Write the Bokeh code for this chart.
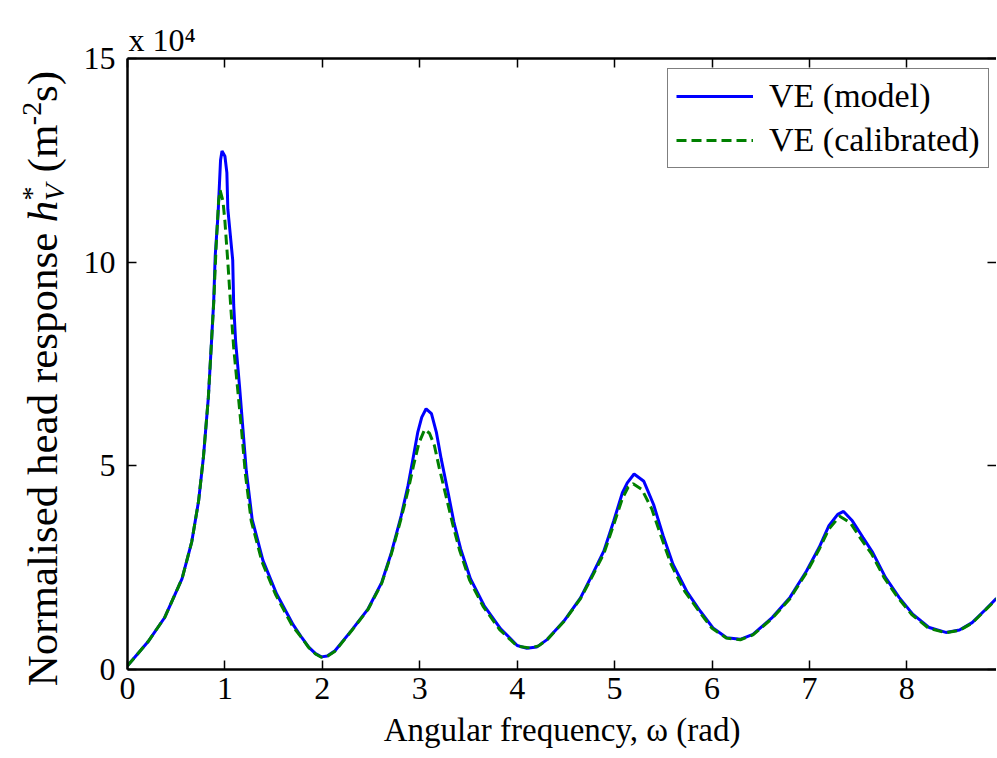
import math
from bokeh.plotting import figure
from bokeh.models import Range1d, LinearAxis, FixedTicker, Legend, LegendItem
from bokeh.layouts import row, column
from bokeh.core.properties import value
from bokeh.embed import file_html
from bokeh.resources import INLINE

# ---- data (head response in units of 1e4) ----
omega_model = [0.00, 0.21, 0.38, 0.56, 0.66, 0.73, 0.78, 0.83, 0.86, 0.885, 0.90, 0.93, 0.955, 0.97,
               1.00, 1.02, 1.03, 1.08, 1.09, 1.11, 1.15, 1.18, 1.22, 1.28, 1.39, 1.53, 1.70, 1.79,
               1.86, 1.93, 1.99, 2.05, 2.13, 2.30, 2.47, 2.61, 2.71, 2.81, 2.88, 2.93, 2.98, 3.02,
               3.065, 3.12, 3.17, 3.22, 3.29, 3.35, 3.42, 3.52, 3.66, 3.83, 4.00, 4.10, 4.20, 4.31,
               4.48, 4.65, 4.78, 4.89, 4.99, 5.08, 5.13, 5.20, 5.30, 5.40, 5.50, 5.60, 5.74, 5.88,
               6.01, 6.15, 6.29, 6.42, 6.62, 6.80, 6.97, 7.10, 7.20, 7.29, 7.35, 7.44, 7.55, 7.65,
               7.78, 7.92, 8.06, 8.23, 8.40, 8.54, 8.67, 8.81, 8.92]
h_model = [0.09, 0.68, 1.27, 2.23, 3.14, 4.14, 5.23, 6.68, 7.95, 9.05, 10.14, 11.2, 12.5, 12.73,
           12.6, 12.2, 11.3, 10.05, 8.95, 8.05, 6.95, 6.05, 4.86, 3.68, 2.68, 1.86, 1.10, 0.78,
           0.55, 0.39, 0.31, 0.33, 0.46, 0.96, 1.49, 2.14, 2.88, 3.78, 4.52, 5.17, 5.83, 6.19,
           6.40, 6.28, 5.83, 5.17, 4.35, 3.62, 2.96, 2.23, 1.57, 1.00, 0.59, 0.52, 0.55, 0.74,
           1.19, 1.76, 2.37, 2.91, 3.64, 4.34, 4.58, 4.80, 4.62, 4.05, 3.27, 2.58, 1.92, 1.43,
           1.02, 0.78, 0.74, 0.86, 1.28, 1.77, 2.42, 3.00, 3.53, 3.81, 3.88, 3.65, 3.24, 2.87,
           2.26, 1.77, 1.36, 1.03, 0.91, 0.97, 1.15, 1.48, 1.75]

omega_cal = [0.00, 0.21, 0.38, 0.56, 0.66, 0.73, 0.78, 0.83, 0.86, 0.885, 0.91, 0.935, 0.95, 0.98,
             1.00, 1.03, 1.06, 1.09, 1.13, 1.17, 1.21, 1.27, 1.38, 1.52, 1.69, 1.79, 1.86, 1.93,
             1.99, 2.05, 2.13, 2.30, 2.47, 2.61, 2.71, 2.81, 2.88, 2.94, 2.99, 3.05, 3.10, 3.15,
             3.20, 3.27, 3.34, 3.41, 3.51, 3.65, 3.82, 4.00, 4.13, 4.22, 4.31, 4.48, 4.65, 4.78,
             4.89, 4.99, 5.08, 5.14, 5.19, 5.28, 5.38, 5.48, 5.58, 5.72, 5.87, 6.00, 6.15, 6.29,
             6.42, 6.62, 6.80, 6.97, 7.10, 7.20, 7.31, 7.42, 7.53, 7.64, 7.77, 7.91, 8.05, 8.22,
             8.40, 8.54, 8.67, 8.81, 8.92]
h_cal = [0.09, 0.68, 1.27, 2.23, 3.14, 4.14, 5.23, 6.68, 7.95, 9.0, 10.4, 11.5, 11.77, 11.5,
         11.0, 10.0, 8.9, 7.9, 6.9, 5.9, 4.8, 3.65, 2.65, 1.84, 1.08, 0.77, 0.54, 0.38,
         0.30, 0.32, 0.45, 0.95, 1.48, 2.12, 2.85, 3.72, 4.40, 5.05, 5.55, 5.89, 5.80, 5.50,
         4.95, 4.25, 3.55, 2.92, 2.20, 1.55, 0.98, 0.57, 0.53, 0.58, 0.74, 1.18, 1.74, 2.33,
         2.85, 3.55, 4.20, 4.48, 4.56, 4.42, 3.95, 3.25, 2.58, 1.92, 1.42, 1.01, 0.77, 0.73,
         0.85, 1.26, 1.74, 2.38, 2.95, 3.45, 3.76, 3.60, 3.20, 2.83, 2.24, 1.76, 1.35, 1.02,
         0.90, 0.96, 1.14, 1.47, 1.73]

x_ticks = [0, 1, 2, 3, 4, 5, 6, 7, 8]
y_ticks = [0, 5, 10, 15]
series_names = ["VE (model)", "VE (calibrated)"]
x_title = "Angular frequency, ω (rad)"
multiplier = "x 10⁴"

# ---- layout constants ----
FONT = "Liberation Serif"
X_END = 8.92
Y_END = 15
TOTAL_W = 996
TOTAL_H = 757
LAB_W = 70          # strip left of the axes (y label)
MAIN_W = TOTAL_W - LAB_W
MT, MB = 58, 88

# ---- left strip: rotated y-axis label built from pieces ----
lab = figure(width=LAB_W, height=TOTAL_H, output_backend="svg", toolbar_location=None,
             x_range=Range1d(0, LAB_W), y_range=Range1d(0, TOTAL_H),
             x_axis_type=None, y_axis_type=None,
             min_border=0, min_border_left=0, min_border_right=0, min_border_top=0,
             min_border_bottom=0, outline_line_color=None,
             background_fill_color="white", border_fill_color="white")
lab.grid.visible = False

R = math.pi / 2
pieces = [
    # text, size, style, centre x, centre y (page px)
    ("Normalised head response", "43px", "normal", 42, 459),
    ("h", "43px", "italic", 42, 211),
    ("*", "28px", "normal", 31, 193),
    ("V", "28px", "italic", 54, 192),
    ("(m", "43px", "normal", 42, 148),
    ("-2", "28px", "normal", 31, 113),
    ("s)", "43px", "normal", 42, 86),
]
for txt, fs, style, cx, cy in pieces:
    lab.text(x=[cx], y=[TOTAL_H - cy], text=[txt], text_font=value(FONT),
             text_font_size=value(fs), text_font_style=style, angle=R,
             text_align="center", text_baseline="middle", text_color="black")

# ---- main axes ----
p = figure(width=MAIN_W, height=TOTAL_H, output_backend="svg", toolbar_location=None,
           x_range=Range1d(0, X_END), y_range=Range1d(0, Y_END),
           min_border_left=127 - LAB_W, min_border_top=MT, min_border_bottom=MB, min_border_right=0,
           background_fill_color="white", border_fill_color="white", outline_line_color=None)
p.grid.visible = False
p.title.text = multiplier
p.title.align = "left"
p.title.text_font = FONT
p.title.text_font_size = "32px"
p.title.text_font_style = "normal"
p.title.text_color = "black"
p.title.standoff = 2
p.title.offset = 1


def style_axis(ax, show_labels=True, show_line=True, ticks=None):
    ax.axis_line_width = 2.5
    ax.axis_line_color = "black" if show_line else None
    ax.major_tick_in = 9
    ax.major_tick_out = 0
    ax.major_tick_line_width = 1.5
    ax.minor_tick_line_color = None
    ax.major_label_text_font = FONT
    ax.major_label_text_color = "black"
    ax.major_label_text_font_size = "32px"
    if not show_labels:
        ax.major_label_overrides = {t: "" for t in ticks}
        ax.major_label_standoff = 0


xa = p.xaxis[0]
xa.ticker = FixedTicker(ticks=x_ticks)
style_axis(xa)
xa.major_label_standoff = 8
xa.axis_label = x_title
xa.axis_label_text_font = FONT
xa.axis_label_text_font_style = "normal"
xa.axis_label_text_font_size = "33px"
xa.axis_label_text_color = "black"
xa.axis_label_standoff = 10

ya = p.yaxis[0]
ya.ticker = FixedTicker(ticks=y_ticks)
style_axis(ya)
ya.major_label_standoff = 12

top = LinearAxis(ticker=FixedTicker(ticks=x_ticks))
style_axis(top, show_labels=False, ticks=x_ticks)
p.add_layout(top, "above")
right = LinearAxis(ticker=FixedTicker(ticks=y_ticks))
style_axis(right, show_labels=False, show_line=False, ticks=y_ticks)
p.add_layout(right, "right")

r1 = p.line(omega_model, h_model, line_color="#0000ff", line_width=3)
r2 = p.line(omega_cal, h_cal, line_color="#008000", line_width=3, line_dash="10 5")

legend = Legend(items=[LegendItem(label=series_names[0], renderers=[r1]),
                       LegendItem(label=series_names[1], renderers=[r2])],
                location=(540, 501))
legend.label_text_font = FONT
legend.label_text_font_size = "34px"
legend.label_text_color = "black"
legend.glyph_width = 77
legend.glyph_height = 30
legend.label_standoff = 16
legend.padding = 8
legend.spacing = 6
legend.margin = 0
legend.border_line_color = "black"
legend.border_line_width = 1.5
legend.background_fill_color = "white"
legend.background_fill_alpha = 1
p.add_layout(legend)

layout = row(lab, column(p, spacing=0), spacing=0)
open("out.html", "w").write(file_html(layout, INLINE))
